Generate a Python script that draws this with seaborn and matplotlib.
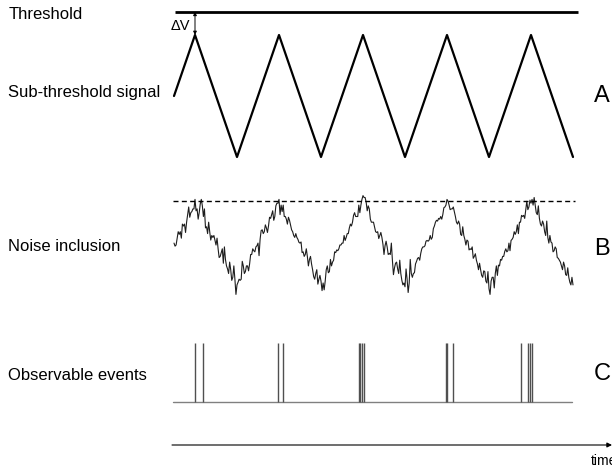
import numpy as np
import pandas as pd
import matplotlib
matplotlib.use("Agg")
import matplotlib.pyplot as plt
import seaborn as sns

# ---------------- data ----------------
# Panel A: sub-threshold triangular signal (time in signal periods)
signal_time = [0.0, 0.25, 0.75, 1.25, 1.75, 2.25, 2.75, 3.25, 3.75, 4.25, 4.75]
signal_value = [0.0, 1.0, -1.0, 1.0, -1.0, 1.0, -1.0, 1.0, -1.0, 1.0, -1.0]
threshold_a = 1.38

# Panel B: signal with noise (sampled evenly from t=0 to t=4.75)
noisy_value = [
    0.05, -0.03, 0.00, 0.17, 0.35, 0.28, 0.35, 0.18, 0.55, 0.50,
    0.55, 0.33, 0.60, 0.80, 1.00, 0.73, 0.85, 0.88, 0.95, 0.95,
    1.20, 0.90, 0.95, 0.68, 0.85, 1.08, 1.20, 1.03, 0.75, 0.95,
    0.45, 0.48, 0.30, 0.60, 0.35, 0.13, 0.25, 0.20, 0.25, 0.12,
    0.00, 0.18, -0.10, -0.33, -0.30, -0.20, -0.10, -0.48, -0.05, -0.38,
    -0.55, -0.63, -0.75, -0.45, -0.65, -0.93, -0.85, -0.55, -0.90, -1.30,
    -1.05, -0.98, -0.90, -0.93, -0.90, -0.43, -0.55, -0.75, -0.70, -0.55,
    -0.55, -0.68, -0.50, -0.25, -0.25, -0.10, -0.15, -0.18, -0.05, -0.02,
    0.05, -0.28, 0.15, 0.38, 0.40, 0.30, 0.35, 0.53, 0.45, 0.33,
    0.50, 0.73, 0.70, 0.80, 0.90, 0.65, 0.75, 1.03, 1.10, 1.10,
    1.20, 0.80, 1.05, 0.88, 1.05, 0.75, 0.75, 0.68, 0.55, 0.73,
    0.65, 0.53, 0.40, 0.35, 0.25, 0.20, 0.30, 0.20, 0.15, 0.07,
    0.05, 0.08, -0.20, -0.18, -0.30, -0.25, -0.10, -0.30, -0.55, -0.38,
    -0.30, -0.50, -0.65, -0.83, -0.90, -0.75, -0.65, -1.03, -0.90, -0.80,
    -0.95, -1.20, -1.00, -1.18, -0.95, -0.65, -0.55, -0.73, -0.70, -0.38,
    -0.55, -0.45, -0.40, -0.18, -0.20, -0.13, -0.15, -0.10, 0.00, 0.00,
    0.05, 0.05, 0.25, 0.12, 0.20, 0.30, 0.30, 0.45, 0.55, 0.50,
    0.60, 0.78, 0.85, 0.75, 0.75, 0.75, 1.05, 0.85, 1.05, 1.20,
    1.30, 1.25, 1.25, 1.13, 0.90, 1.03, 0.95, 0.68, 0.60, 0.60,
    0.60, 0.48, 0.35, 0.33, 0.35, 0.17, 0.25, 0.33, 0.20, 0.02,
    -0.25, -0.02, 0.10, -0.05, -0.25, -0.22, -0.25, 0.05, -0.40, -0.78,
    -0.60, -0.48, -0.45, -0.63, -0.75, -0.40, -0.75, -0.93, -1.05, -1.00,
    -1.10, -0.63, -0.90, -1.25, -1.00, -0.38, -0.75, -0.85, -0.75, -0.73,
    -0.50, -0.43, -0.35, -0.33, -0.40, -0.22, -0.10, -0.05, -0.05, -0.02,
    0.10, 0.12, 0.10, 0.13, 0.25, 0.15, 0.20, 0.43, 0.50, 0.60,
    0.65, 0.63, 0.70, 0.68, 0.75, 0.68, 0.80, 0.98, 1.00, 1.05,
    1.20, 1.15, 1.05, 0.93, 0.95, 0.95, 1.00, 0.88, 0.75, 0.60,
    0.55, 0.63, 0.55, 0.28, 0.25, 0.48, 0.25, 0.15, 0.00, 0.13,
    0.10, -0.13, -0.10, -0.12, -0.05, -0.35, -0.30, -0.23, -0.40, -0.50,
    -0.65, -0.48, -0.65, -0.80, -0.85, -0.68, -0.70, -0.95, -1.00, -0.70,
    -1.15, -1.30, -0.95, -0.85, -0.85, -1.13, -0.75, -0.55, -0.80, -0.53,
    -0.55, -0.38, -0.40, -0.30, -0.30, -0.17, -0.10, -0.18, -0.15, 0.05,
    -0.15, 0.12, 0.15, 0.20, 0.35, 0.28, 0.35, 0.53, 0.30, 0.60,
    0.60, 0.78, 0.75, 0.78, 0.70, 0.93, 1.15, 0.93, 1.00, 1.18,
    1.10, 1.20, 1.05, 1.25, 1.05, 0.85, 0.80, 1.03, 0.70, 0.55,
    0.50, 0.63, 0.55, 0.35, 0.25, 0.63, 0.20, 0.05, 0.25, 0.08,
    0.05, -0.18, -0.15, -0.05, -0.10, -0.33, -0.35, -0.40, -0.45, -0.55,
    -0.65, -0.45, -0.55, -0.78, -0.80, -0.60, -0.85, -0.98, -1.05, -0.85,
    -1.05,
]
noisy_t_end = 4.75
threshold_b = 1.145

# Panel C: observable events (threshold crossings), time in signal periods
event_times = [0.25, 0.345,
               1.242, 1.301,
               2.202, 2.220, 2.238, 2.262,
               3.235, 3.247, 3.318,
               4.127, 4.218, 4.244, 4.258]

row_labels = ["Threshold", "Sub-threshold signal", "Noise inclusion", "Observable events"]
panel_letters = ["A", "B", "C"]
delta_label = "\u0394V"
time_label = "time"

# ---------------- style ----------------
sns.set_style("white")
plt.rcParams["font.family"] = ["Liberation Sans", "DejaVu Sans"]
plt.rcParams["text.color"] = "black"

W, H = 612, 469
fig = plt.figure(figsize=(W / 100, H / 100), dpi=100)

def fx(px):
    return px / W

def fy(py):
    return 1 - py / H

# horizontal mapping: t=0 at x=174 px, 84 px per period
X0, X1 = -174 / 84, (W - 174) / 84

def px2t(px):
    return (px - 174) / 84

# ---------------- panel A ----------------
axA = fig.add_axes([0, fy(180), 1, 180 / H])
axA.set_xlim(X0, X1)
axA.set_ylim(-84 / 61, 96 / 61)
axA.set_axis_off()
dfA = pd.DataFrame({"t": signal_time, "v": signal_value})
sns.lineplot(data=dfA, x="t", y="v", ax=axA, color="black", lw=1.6,
             sort=False, estimator=None)
axA.plot([px2t(175), px2t(578)], [threshold_a, threshold_a], color="black",
         lw=2.0, solid_capstyle="butt")
axA.annotate("", xy=(signal_time[1], signal_value[1]),
             xytext=(signal_time[1], threshold_a),
             arrowprops=dict(arrowstyle="<|-|>", lw=0.7, color="black",
                             shrinkA=0, shrinkB=0, mutation_scale=5))
fig.text(fx(190), fy(26), delta_label, ha="right", va="center", fontsize=10.5)

# ---------------- panel B ----------------
axB = fig.add_axes([0, fy(320), 1, 140 / H])
axB.set_xlim(X0, X1)
axB.set_ylim(-(320 - 245) / 38, (245 - 180) / 38)
axB.set_axis_off()
dfB = pd.DataFrame({"t": np.linspace(0, noisy_t_end, len(noisy_value)),
                    "v": noisy_value})
sns.lineplot(data=dfB, x="t", y="v", ax=axB, color="#1e1e1e", lw=0.8,
             sort=False, estimator=None)
axB.plot([px2t(173), px2t(575)], [threshold_b, threshold_b], color="black",
         lw=1.0, linestyle=(0, (3.6, 2.4)))

# ---------------- panel C ----------------
axC = fig.add_axes([0, 0, 1, 139 / H])
axC.set_xlim(X0, X1)
axC.set_ylim(-(469 - 402) / 59, (402 - 330) / 59)
axC.set_axis_off()
axC.plot([px2t(173), px2t(572)], [0, 0], color="#808080", lw=1.0)
axC.vlines(event_times, 0, 1, color="#505050", lw=1.0)
y_time = -(445 - 402) / 59
axC.annotate("", xy=(px2t(612), y_time), xytext=(px2t(172), y_time),
             arrowprops=dict(arrowstyle="-|>", lw=0.8, color="black",
                             shrinkA=0, shrinkB=0, mutation_scale=7),
             annotation_clip=False)
fig.text(fx(591), fy(461), time_label, ha="left", va="center", fontsize=10)

# ---------------- labels ----------------
label_y = [14.5, 92, 246, 375]
for lab, yy in zip(row_labels, label_y):
    fig.text(fx(8.5), fy(yy), lab, ha="left", va="center", fontsize=12)
letter_y = [96, 248.5, 374.5]
for let, yy in zip(panel_letters, letter_y):
    fig.text(fx(594), fy(yy), let, ha="left", va="center", fontsize=17)

fig.savefig("out.png", dpi=100)
